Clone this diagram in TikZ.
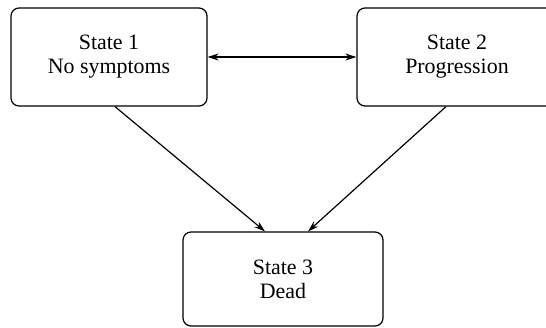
\documentclass[tikz,border=0pt]{standalone}
\usepackage{fontspec}
\setmainfont{Liberation Serif}
\usetikzlibrary{arrows.meta}
\begin{document}
\begin{tikzpicture}[x=1bp,y=-1bp,
  statebox/.style={draw, rounded corners=8bp, line width=1.2bp, align=center, inner sep=0pt,
    font=\fontsize{22}{24}\selectfont},
  trans/.style={line width=1.2bp, -{Stealth[length=11bp,width=7bp]}},
  twoway/.style={line width=1.2bp, {Stealth[length=11bp,width=7bp]}-{Stealth[length=11bp,width=7bp]}},
]
\useasboundingbox (0,0) rectangle (546,327);
\node[statebox, minimum width=196bp, minimum height=98bp] (s1) at (109,57) {State 1\\No symptoms};
\node[statebox, minimum width=200bp, minimum height=98bp] (s2) at (457,57) {State 2\\Progression};
\node[statebox, minimum width=200bp, minimum height=94bp] (s3) at (283,279) {State 3\\Dead};
\draw[twoway] (s1.east) -- (s2.west);
\draw[trans] ([xshift=6bp]s1.south) -- ([xshift=-18bp]s3.north);
\draw[trans] ([xshift=-11bp]s2.south) -- ([xshift=25bp]s3.north);
\end{tikzpicture}
\end{document}
